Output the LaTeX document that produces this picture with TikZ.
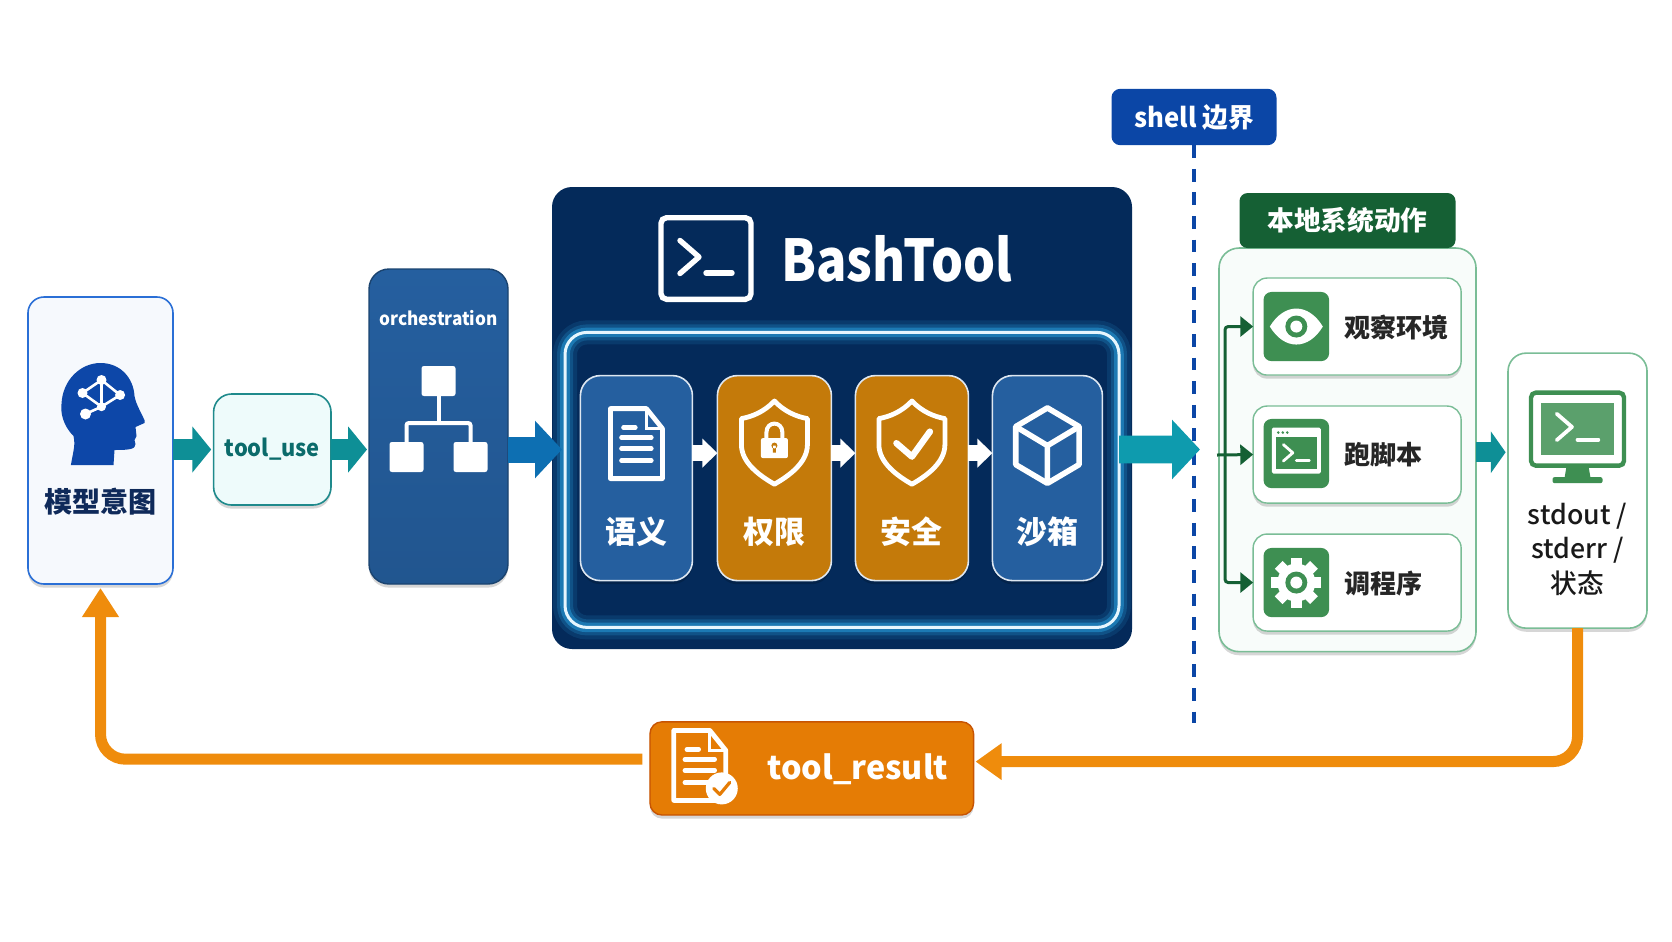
\documentclass[tikz,border=0pt]{standalone}
\usepackage{fontspec}
\setmainfont{Noto Sans CJK SC}
\newfontfamily\mediumfont{Noto Sans CJK SC Medium}
\usepackage{tikz}
\usetikzlibrary{arrows.meta,positioning,calc,shadows}

\definecolor{intentblue}{HTML}{2A6FD6}
\definecolor{headblue}{HTML}{0D47A8}
\definecolor{inknavy}{HTML}{0F2A5A}
\definecolor{useteal}{HTML}{1F8A8C}
\definecolor{usefill}{HTML}{EEFBFB}
\definecolor{usetext}{HTML}{0B6B6B}
\definecolor{arrowteal}{HTML}{0E8F96}
\definecolor{arrowblue}{HTML}{0D6FB2}
\definecolor{arrowcyan}{HTML}{0E9BAE}
\definecolor{panelnavy}{HTML}{042A5A}
\definecolor{glowblue}{HTML}{2FB4F5}
\definecolor{stageblue}{HTML}{255F9F}
\definecolor{stageorange}{HTML}{C47A0A}
\definecolor{shellblue}{HTML}{0B46A6}
\definecolor{localdark}{HTML}{156034}
\definecolor{localline}{HTML}{7ABD96}
\definecolor{localicon}{HTML}{3E8F52}
\definecolor{feedorange}{HTML}{EF8C0C}
\definecolor{resultorange}{HTML}{E57C05}

\tikzset{
  softshadow/.style={drop shadow={shadow xshift=0mm,shadow yshift=-.9mm,opacity=.16,fill=black}},
  labeltext/.style={inner sep=0pt,font=\bfseries\fontsize{#1}{#1}\selectfont},
  medtext/.style={inner sep=0pt,font=\mediumfont\fontsize{#1}{#1}\selectfont},
  stagecard/.style={draw=white!85!stageblue,line width=.4mm,rounded corners=5mm,minimum height=51.25mm,softshadow},
  rowbox/.style={draw=localline,line width=.35mm,fill=white,rounded corners=3.5mm,minimum width=52mm,minimum height=24.25mm,softshadow},
  iconbox/.style={fill=localicon,rounded corners=2mm,minimum width=16.4mm,minimum height=17.3mm},
  orgbox/.style={fill=white,rounded corners=.6mm,minimum width=8.5mm,minimum height=7.5mm},
  blockarrow/.style={line width=5.25mm,arrowteal,-{Triangle[length=4.7mm,width=11.25mm]}},
  stagearrow/.style={line width=4mm,white,-{Triangle[length=3.75mm,width=7mm]}},
  branch/.style={line width=.75mm,localdark,rounded corners=.8mm},
  feedback/.style={line width=2.75mm,feedorange,rounded corners=6.25mm},
  promptpic/.pic={
    \draw[line cap=round,line join=round] (-26,-18) -- (-7,-1.5) -- (-26,15);
    \draw[line cap=round] (0,14.5) -- (26,14.5);
  },
  docicon/.pic={
    \draw[white,line width=1.2mm,line join=round] (-26,-35) -- (10,-35) -- (26,-15) -- (26,35) -- (-26,35) -- cycle;
    \draw[white,line width=.7mm] (10,-35) -- (10,-15) -- (26,-15);
    \draw[white,line width=1.1mm,line cap=round] (-13,-16) -- (-1,-16) (-15,-6) -- (15,-6) (-15,5) -- (15,5) (-15,17) -- (15,17);
  },
  shieldicon/.pic={
    \draw[white,line width=1.2mm,line join=round] (0,-41.6) .. controls (-10,-31) and (-22,-26) .. (-33,-24) -- (-33,2)
      .. controls (-33,20) and (-15,33) .. (0,41.6) .. controls (15,33) and (33,20) .. (33,2) -- (33,-24)
      .. controls (22,-26) and (10,-31) .. cycle;
  },
  lockicon/.pic={
    \draw[white,line width=1mm] (-8,-4) -- (-8,-10) .. controls (-8,-22) and (8,-22) .. (8,-10) -- (8,-4);
    \fill[white,rounded corners=.5mm] (-13.5,-4.5) rectangle (13.5,15.5);
    \fill[stageorange] (0,3) circle (3) (-1.5,3) rectangle (1.5,10);
  },
  cubeicon/.pic={
    \draw[white,line width=1.4mm,line join=round] (0,-37.7) -- (31.7,-19) -- (31.7,19) -- (0,37.7) -- (-31.7,19) -- (-31.7,-19) -- cycle;
    \draw[white,line width=1.4mm,line join=round] (-31.7,-19) -- (0,0) -- (31.7,-19) (0,0) -- (0,37.7);
  },
  headicon/.pic={
    \fill[headblue] (-29.6,51) .. controls (-27,36) and (-25,31) .. (-27,22) .. controls (-38,11) and (-40,-2) .. (-39,-10)
      .. controls (-38,-34) and (-20,-51) .. (0,-51) .. controls (20,-51) and (33,-36) .. (34,-18)
      .. controls (35,-12) and (38,-6) .. (44,6) -- (44,9) -- (35,13) -- (36,22) -- (34,26) -- (35,30)
      .. controls (35,35) and (30,36) .. (14,36) -- (13,51) -- cycle;
    \draw[white,line width=.65mm] (1,-34) -- (-18,-21) -- (1,-7.3) -- (19.6,-19) -- cycle (1,-34) -- (1,-7.3) -- (-15,0);
    \fill[white] (1,-34) circle (5) (-18,-21) circle (5) (19.6,-19) circle (5) (1,-7.3) circle (4.5) (-15,0) circle (5.5);
  },
  eyeicon/.pic={
    \fill[white] (-26.5,0) .. controls (-12,-24) and (12,-24) .. (26.5,0) .. controls (12,24) and (-12,24) .. cycle;
    \fill[localicon] (0,0) circle (11);
    \fill[white] (0,0) circle (6);
  },
  windowicon/.pic={
    \fill[white,rounded corners=.4mm] (-24.5,-26) rectangle (24.5,20);
    \fill[localicon] (-20.5,-16.5) rectangle (20.5,15.5);
    \fill[localicon] (-18,-21) circle (1.4) (-13.5,-21) circle (1.4) (-9,-21) circle (1.4);
    \pic[white,line width=.7mm,scale=.5] at (0,0) {promptpic};
  },
  gearicon/.pic={
    \foreach \a in {0,45,...,315} \fill[white,rotate=\a] (-5.5,-25) rectangle (5.5,0);
    \fill[white] (0,0) circle (19);
    \fill[localicon] (0,0) circle (11);
    \fill[white] (0,0) circle (6);
  },
  monitoricon/.pic={
    \draw[localicon,line width=1.1mm,rounded corners=1.2mm] (-46.5,-36.5) rectangle (46.5,36.5);
    \fill[localicon!85!white] (-36.5,-26) rectangle (36.5,26);
    \fill[localicon] (-11,37) -- (11,37) -- (13,49) -- (-13,49) -- cycle;
    \fill[localicon,rounded corners=.5mm] (-25,48) rectangle (25,54);
    \pic[white,line width=.95mm,scale=.8] at (0,-1) {promptpic};
  }
}

\begin{document}
\begin{tikzpicture}[x=.25mm,y=-.25mm,>=Latex,every node/.style={outer sep=0pt,inner sep=0pt}]
\useasboundingbox (0,0) rectangle (1672,941);

\node[draw=intentblue,line width=.4mm,fill=intentblue!4,rounded corners=4mm,minimum width=36.25mm,minimum height=71.75mm,softshadow] (intent) at (100.5,440.5) {};
\node[draw=useteal,line width=.4mm,fill=usefill,rounded corners=4.5mm,minimum width=29.35mm,minimum height=27.75mm,right=10.15mm of intent,yshift=-2.25mm,softshadow,labeltext=16.5,text=usetext] (tooluse) {\scalebox{.94}[1]{tool\_use}};
\node[draw=stageblue!70!black,line width=.35mm,top color=stageblue,bottom color=stageblue!90!black,rounded corners=5mm,minimum width=34.75mm,minimum height=78.75mm,right=9.5mm of tooluse,yshift=5.75mm,softshadow] (orch) {};
\node[fill=panelnavy,rounded corners=5mm,minimum width=145mm,minimum height=115.5mm,right=11mm of orch,yshift=2.125mm] (panel) {};
\node[draw=white!88!glowblue,line width=.75mm,rounded corners=5.5mm,minimum width=138.5mm,minimum height=73.75mm,above=5.4mm of panel.south,
  preaction={draw=glowblue,line width=6mm,opacity=.12},preaction={draw=glowblue,line width=4mm,opacity=.2},preaction={draw=glowblue,line width=2.4mm,opacity=.4}] (frame) {};

\node[stagecard,fill=stageblue,minimum width=28mm,right=3.85mm of frame.west,yshift=.45mm] (semantic) {};
\node[stagecard,fill=stageorange,minimum width=28.5mm,right=6.25mm of semantic] (perm) {};
\node[stagecard,fill=stageorange,minimum width=28.25mm,right=6mm of perm] (safe) {};
\node[stagecard,fill=stageblue,minimum width=27.5mm,right=6mm of safe] (sandbox) {};

\node[draw=white,line width=1.35mm,rounded corners=1.4mm,minimum width=22.5mm,minimum height=20.4mm] (bashicon) at (706,258.5) {};
\node[labeltext=41,text=white,right=7.5mm of bashicon] (bashtext) {\scalebox{.875}[1]{BashTool}};

\node[labeltext=13,text=white] (orchtext) at ($(orch.north)+(0,49)$) {\scalebox{.94}[1]{orchestration}};
\node[orgbox,below=24.25mm of orch.north] (orgtop) {};
\node[orgbox,below=11.5mm of orgtop,xshift=-8mm] (orgleft) {};
\node[orgbox,below=11.5mm of orgtop,xshift=8mm] (orgright) {};

\node[labeltext=20,text=inknavy] (intenttext) at ($(intent.north)+(0,205)$) {模型意图};
\pic at ($(intent.north)+(0,117)$) {headicon};

\node[labeltext=22,text=white] (semantictext) at ($(semantic.south)+(0,-49)$) {语义};
\node[labeltext=22,text=white] (permtext) at ($(perm.south)+(0,-49)$) {权限};
\node[labeltext=22,text=white] (safetext) at ($(safe.south)+(0,-49)$) {安全};
\node[labeltext=22,text=white] (sandboxtext) at ($(sandbox.south)+(0,-49)$) {沙箱};

\pic at ($(semantic.north)+(0,68)$) {docicon};
\pic at ($(perm.north)+(0,67)$) {shieldicon};
\pic at ($(perm.north)+(0,67)$) {lockicon};
\pic at ($(safe.north)+(0,67)$) {shieldicon};
\draw[white,line width=1.6mm,line cap=round,line join=round] ($(safe.north)+(-15.5,67.6)$) -- ++(15.5,13.4) -- ++(18,-25);
\pic at ($(sandbox.north)+(0,70)$) {cubeicon};
\pic[white,line width=1.35mm] at (bashicon) {promptpic};

\node[fill=shellblue,rounded corners=2.2mm,minimum width=41.25mm,minimum height=14.1mm,labeltext=19,text=white] (shell) at (1194,117) {\scalebox{.96}[1]{shell 边界}};
\coordinate (shellend) at (1194,723);
\draw[shellblue,line width=.8mm,dash pattern=on 3.2mm off 2.7mm] (shell) -- (shellend);

\node[draw=localline,line width=.4mm,fill=localline!5,rounded corners=5mm,minimum width=64.25mm,minimum height=100.9mm,right=21.75mm of panel,yshift=-7.96mm,softshadow] (localbox) {};
\node[fill=localdark,rounded corners=2mm,minimum width=54mm,minimum height=13.75mm,above=0mm of localbox,labeltext=19,text=white] (localtitle) {本地系统动作};

\node[rowbox,below=7.5mm of localbox.north,xshift=2.4mm] (rowobs) {};
\node[rowbox,below=7.75mm of rowobs] (rowrun) {};
\node[rowbox,below=7.75mm of rowrun] (rowtune) {};
\node[iconbox,right=2.6mm of rowobs.west] (iconobs) {};
\node[iconbox,right=2.6mm of rowrun.west,yshift=.25mm] (iconrun) {};
\node[iconbox,right=2.6mm of rowtune.west] (icontune) {};
\node[labeltext=18.5,text=black!85,right=3.9mm of iconobs,yshift=-.25mm] (obstext) {观察环境};
\node[labeltext=18.5,text=black!85,right=3.9mm of iconrun,yshift=-.25mm] (runtext) {跑脚本};
\node[labeltext=18.5,text=black!85,right=3.9mm of icontune,yshift=-.25mm] (tunetext) {调程序};
\pic at (iconobs) {eyeicon};
\pic at (iconrun) {windowicon};
\pic at (icontune) {gearicon};

\node[draw=localline,line width=.4mm,fill=white,rounded corners=4.5mm,minimum width=34.75mm,minimum height=68.75mm,right=8mm of localbox,yshift=-10.2mm,softshadow] (outbox) {};
\pic at ($(outbox.north)+(0,76)$) {monitoricon};
\node[align=center,font=\mediumfont\fontsize{19}{24.4}\selectfont,text=black!90] (outtext) at ($(outbox.north)+(0,196)$) {stdout /\\stderr /\\状态};

\node[draw=resultorange!80!red!85!black,line width=.35mm,fill=resultorange,rounded corners=3mm,minimum width=80.9mm,minimum height=23.3mm,below=18.2mm of panel,xshift=-7.56mm,softshadow] (result) {};
\node[labeltext=23,text=white] (resulttext) at ($(result.center)+(46,1)$) {tool\_result};
\pic at ($(result.center)+(-112,-3)$) {docicon};
\fill[white] ($(result.center)+(-90,20)$) circle (16);
\draw[resultorange,line width=.8mm,line cap=round,line join=round] ($(result.center)+(-98,20)$) -- ++(6,6) -- ++(10,-12);

\draw[blockarrow,shorten >=.6mm] (intent.east |- tooluse) -- (tooluse.west);
\draw[blockarrow,shorten >=.5mm] (tooluse.east) -- (orch.west |- tooluse);
\draw[blockarrow,arrowblue,line width=6.5mm,-{Triangle[length=6.75mm,width=14mm]},shorten >=.75mm] (orch.east |- tooluse) -- (frame.west |- tooluse);
\foreach \a/\b in {semantic/perm,perm/safe,safe/sandbox}
  \draw[stagearrow] ([yshift=6.25mm]\a.east) -- ([yshift=6.25mm]\b.west);
\coordinate (shelltip) at (1200,449.5);
\draw[blockarrow,arrowcyan,line width=6.9mm,-{Triangle[length=7mm,width=14.5mm]}] (frame.east |- tooluse) -- (shelltip);

\draw[white,line width=1mm] (orgtop.south) -- ++(0,27) coordinate (orgjoin);
\draw[white,line width=1mm,rounded corners=.6mm] (orgleft.north) |- (orgjoin) -| (orgright.north);

\coordinate (branchin) at (1217,455);
\coordinate (branchx) at (1225,455);
\draw[branch,-{Triangle[length=3.2mm,width=5mm]}] (branchin) -- (rowrun.west);
\draw[branch,-{Triangle[length=3.2mm,width=5mm]}] (branchx) |- (rowobs.west);
\draw[branch,-{Triangle[length=3.2mm,width=5mm]}] (branchx) |- (rowtune.west);

\draw[blockarrow,line width=5mm,-{Triangle[length=3.7mm,width=10.25mm]},shorten >=.6mm] ([yshift=-.6mm]localbox.east) -- ([yshift=-.6mm]localbox.east -| outbox.west);

\draw[feedback,-{Triangle[length=7.25mm,width=8.75mm]},shorten <=1.9mm,shorten >=1mm] ([yshift=2.3mm]result.west) -| (intent.south);
\draw[feedback,-{Triangle[length=6.5mm,width=8.75mm]},shorten >=.5mm] (outbox.south) |- ([yshift=1.7mm]result.east);
\end{tikzpicture}
\end{document}
